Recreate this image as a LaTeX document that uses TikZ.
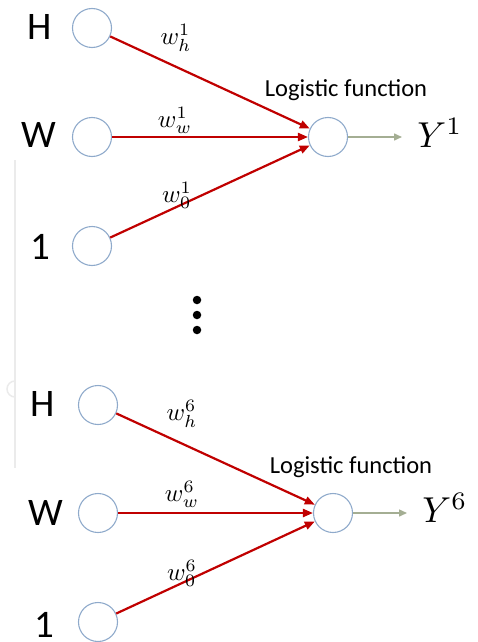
\documentclass[tikz,border=0pt]{standalone}
\usepackage{fontspec}
\setmainfont{Carlito}
\usetikzlibrary{arrows.meta}
\definecolor{wred}{HTML}{C00000}
\definecolor{ring}{HTML}{8FAACB}
\definecolor{outline}{HTML}{A4AE93}
\definecolor{rail}{HTML}{EBEBEB}
\begin{document}
\begin{tikzpicture}[x=1pt,y=-1pt,
  unit/.style={circle,draw=ring,line width=1.1pt,minimum size=39pt,inner sep=0pt},
  inlabel/.style={font=\fontsize{39}{39}\selectfont,text=black,anchor=base,inner sep=0pt},
  wlabel/.style={scale=2.5,inner sep=0pt},
  ylabel/.style={scale=3.6,inner sep=0pt},
  fnlabel/.style={font=\fontsize{24.5}{24.5}\selectfont},
  weight/.style={draw=wred,line width=2.2pt,-{Triangle[length=10pt,width=8pt]}},
  output/.style={draw=outline,line width=1.5pt,-{Triangle[length=8pt,width=7pt]}},
  dot/.style={circle,fill=black,minimum size=8.5pt,inner sep=0pt}]
\useasboundingbox (0,0) rectangle (478,642);
% faint side rail
\draw[rail,line width=2pt] (15,160) -- (15,468);
\draw[rail,line width=1.5pt] (15,397) arc[start angle=-90,end angle=90,radius=-8];

% ---- first neuron ----
\node[unit] (h1) at (92,28) {};
\node[unit] (w1) at (92,137) {};
\node[unit] (b1) at (92,246) {};
\node[unit] (o1) at (328,137) {};
\node[inlabel] (lh1) at (40,40) {H};
\node[inlabel] (lw1) at (39,147) {W};
\node[inlabel] (lb1) at (40,259) {1};
\draw[weight] (h1) -- (o1);
\draw[weight] (w1) -- (o1);
\draw[weight] (b1) -- (o1);
\node[wlabel] (wh1) at (176,38) {$w_h^1$};
\node[wlabel] (ww1) at (175,120) {$w_w^1$};
\node[wlabel] (w01) at (177,195) {$w_0^1$};
\node[fnlabel] (f1) at (346,90) {Logistic function};
\coordinate (e1) at (402,137);
\draw[output] (o1) -- (e1);
\node[ylabel] (y1) at (440,133) {$Y^1$};

% ---- ellipsis ----
\node[dot] (d1) at (197,300) {};
\node[dot] (d2) at (197,315) {};
\node[dot] (d3) at (197,330) {};

% ---- sixth neuron ----
\node[unit] (h6) at (98,405) {};
\node[unit] (w6) at (98,513) {};
\node[unit] (b6) at (98,622) {};
\node[unit] (o6) at (333,513) {};
\node[inlabel] (lh6) at (43,416) {H};
\node[inlabel] (lw6) at (46,525) {W};
\node[inlabel] (lb6) at (44,637) {1};
\draw[weight] (h6) -- (o6);
\draw[weight] (w6) -- (o6);
\draw[weight] (b6) -- (o6);
\node[wlabel] (wh6) at (182,414) {$w_h^6$};
\node[wlabel] (ww6) at (182,494) {$w_w^6$};
\node[wlabel] (w06) at (182,573) {$w_0^6$};
\node[fnlabel] (f6) at (351,467) {Logistic function};
\coordinate (e6) at (407,513);
\draw[output] (o6) -- (e6);
\node[ylabel] (y6) at (445,508) {$Y^6$};
\end{tikzpicture}
\end{document}
